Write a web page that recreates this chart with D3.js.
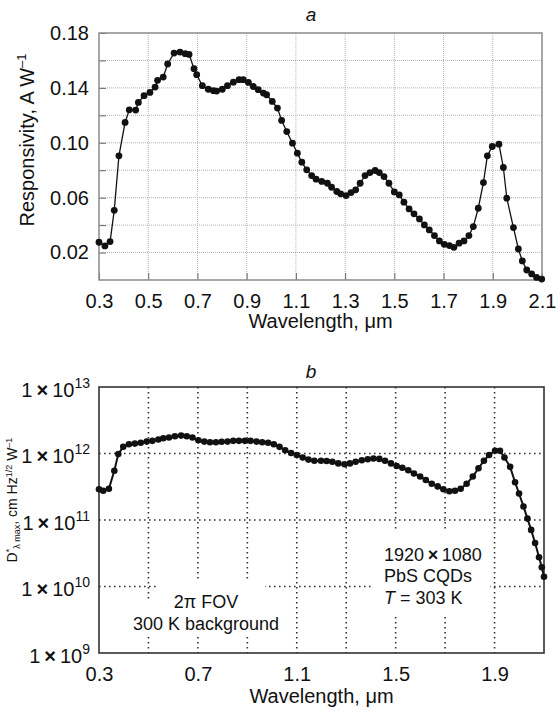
<!DOCTYPE html>
<html><head><meta charset="utf-8">
<script src="https://cdn.jsdelivr.net/npm/d3@7"></script>
<style>
body{margin:0;background:#fff}
svg{display:block}
text{font-family:"Liberation Sans",Arial,sans-serif;fill:#111}
</style>
</head><body>
<svg id="c" width="560" height="713"></svg>
<script>
// ---------- Panel a: responsivity ----------
const wavelengthA = [0.300,0.324,0.345,0.362,0.381,0.406,0.423,0.449,0.460,0.483,0.507,0.528,0.538,0.561,0.579,0.605,0.629,0.650,0.666,0.686,0.697,0.720,0.744,0.765,0.778,0.801,0.822,0.846,0.869,0.886,0.907,0.927,0.947,0.968,0.981,1.004,1.025,1.042,1.063,1.086,1.106,1.124,1.144,1.164,1.182,1.205,1.228,1.245,1.266,1.282,1.304,1.324,1.343,1.361,1.381,1.401,1.422,1.439,1.458,1.478,1.500,1.520,1.539,1.560,1.580,1.602,1.622,1.642,1.663,1.683,1.703,1.724,1.742,1.763,1.783,1.803,1.821,1.841,1.862,1.878,1.898,1.925,1.943,1.957,1.984,2.004,2.020,2.038,2.058,2.078,2.099];
const responsivity = [0.0275,0.0248,0.0280,0.0508,0.0905,0.1148,0.1240,0.1238,0.1294,0.1343,0.1367,0.1406,0.1455,0.1479,0.1574,0.1654,0.1661,0.1649,0.1644,0.1540,0.1496,0.1416,0.1390,0.1380,0.1377,0.1390,0.1416,0.1442,0.1460,0.1460,0.1440,0.1410,0.1387,0.1362,0.1350,0.1301,0.1253,0.1163,0.1082,0.0997,0.0924,0.0859,0.0803,0.0761,0.0735,0.0718,0.0705,0.0676,0.0645,0.0628,0.0615,0.0637,0.0657,0.0705,0.0761,0.0783,0.0798,0.0783,0.0754,0.0705,0.0642,0.0620,0.0567,0.0518,0.0482,0.0445,0.0401,0.0365,0.0324,0.0285,0.0260,0.0251,0.0238,0.0268,0.0285,0.0324,0.0389,0.0523,0.0710,0.0905,0.0973,0.0990,0.0820,0.0596,0.0382,0.0226,0.0139,0.0073,0.0044,0.0019,0.0007];
const xTicksA = [0.3,0.5,0.7,0.9,1.1,1.3,1.5,1.7,1.9,2.1];
const yTicksA = [0.02,0.04,0.06,0.08,0.10,0.12,0.14,0.16,0.18];
const yLabelsA = [0.02,0.06,0.10,0.14,0.18];

// ---------- Panel b: detectivity ----------
const wavelengthB = [0.300,0.317,0.340,0.362,0.378,0.398,0.421,0.445,0.469,0.493,0.516,0.540,0.560,0.583,0.607,0.632,0.655,0.678,0.702,0.726,0.749,0.773,0.796,0.820,0.843,0.866,0.890,0.913,0.937,0.960,0.984,1.007,1.030,1.053,1.077,1.100,1.124,1.147,1.171,1.198,1.221,1.244,1.268,1.293,1.315,1.338,1.363,1.387,1.410,1.434,1.457,1.481,1.504,1.527,1.551,1.574,1.599,1.622,1.646,1.670,1.693,1.717,1.740,1.763,1.787,1.812,1.835,1.857,1.878,1.902,1.922,1.940,1.963,1.983,1.999,2.017,2.033,2.048,2.064,2.080,2.091,2.100];
const detectivity = [2.9e11,2.75e11,2.95e11,5.5e11,9.8e11,1.26e12,1.38e12,1.41e12,1.45e12,1.51e12,1.55e12,1.62e12,1.70e12,1.74e12,1.82e12,1.86e12,1.82e12,1.74e12,1.58e12,1.51e12,1.48e12,1.48e12,1.50e12,1.51e12,1.55e12,1.55e12,1.55e12,1.55e12,1.51e12,1.48e12,1.45e12,1.38e12,1.26e12,1.12e12,1.02e12,9.5e11,8.7e11,8.1e11,7.8e11,7.8e11,7.7e11,7.5e11,7.1e11,6.9e11,7.1e11,7.5e11,7.9e11,8.2e11,8.4e11,8.3e11,7.8e11,7.1e11,6.5e11,6.1e11,5.6e11,5.0e11,4.5e11,4.0e11,3.5e11,3.2e11,2.9e11,2.7e11,2.75e11,2.95e11,3.5e11,4.5e11,6.0e11,7.8e11,9.5e11,1.10e12,1.10e12,8.7e11,6.3e11,3.7e11,2.5e11,1.6e11,1.05e11,7.1e10,4.5e10,2.75e10,1.95e10,1.4e10];
const xTicksB = [0.3,0.5,0.7,0.9,1.1,1.3,1.5,1.7,1.9];
const xLabelsB = [0.3,0.7,1.1,1.5,1.9];
const yTicksB = [1e9,1e10,1e11,1e12,1e13];

const svg = d3.select("#c");
const FS = 20;
const TS = "\u2009";

// ===== Panel a =====
(function(){
  const L=99,R=542,T=33,B=280;
  const x = d3.scaleLinear().domain([0.3,2.1]).range([L,R]);
  const y = d3.scaleLinear().domain([0,0.18]).range([B,T]);
  const g = svg.append("g");
  g.append("g").selectAll("line").data(xTicksA.slice(1,-1)).join("line")
    .attr("x1",d=>x(d)).attr("x2",d=>x(d)).attr("y1",T).attr("y2",B)
    .attr("stroke","#b4b4b4").attr("stroke-width",1).attr("stroke-dasharray","1,1");
  g.append("g").selectAll("line").data(yTicksA.slice(0,-1)).join("line")
    .attr("x1",L).attr("x2",R).attr("y1",d=>y(d)).attr("y2",d=>y(d))
    .attr("stroke","#b4b4b4").attr("stroke-width",1).attr("stroke-dasharray","1,1");
  const ax = d3.axisBottom(x).tickValues(xTicksA).tickSize(-7).tickPadding(17).tickFormat(d3.format(".1f"));
  const gx = g.append("g").attr("transform",`translate(0,${B})`).call(ax);
  const ay = d3.axisLeft(y).tickValues(yTicksA).tickSize(-7).tickPadding(10)
    .tickFormat(d=> yLabelsA.some(v=>Math.abs(v-d)<1e-9) ? d3.format(".2f")(d) : "");
  const gy = g.append("g").attr("transform",`translate(${L},0)`).call(ay);
  [gx,gy].forEach(a=>{
    a.select(".domain").remove();
    a.selectAll(".tick line").attr("stroke","#666");
    a.selectAll("text").attr("font-size",FS).attr("font-family","Liberation Sans, Arial, sans-serif").attr("fill","#111");
  });
  gx.selectAll("text").attr("dy","0.55em");
  g.append("rect").attr("x",L).attr("y",T).attr("width",R-L).attr("height",B-T)
    .attr("fill","none").attr("stroke","#8a8a8a").attr("stroke-width",1.5);
  const pts = wavelengthA.map((w,i)=>[w,responsivity[i]]);
  g.append("path").datum(pts).attr("fill","none").attr("stroke","#111").attr("stroke-width",1.3)
    .attr("d",d3.line().x(d=>x(d[0])).y(d=>y(d[1])));
  g.append("g").selectAll("circle").data(pts).join("circle")
    .attr("cx",d=>x(d[0])).attr("cy",d=>y(d[1])).attr("r",3.4).attr("fill","#111");
  g.append("text").attr("x",311).attr("y",21).attr("text-anchor","middle")
    .attr("font-size",19).attr("font-style","italic").text("a");
  g.append("text").attr("x",(L+R)/2).attr("y",328).attr("text-anchor","middle")
    .attr("font-size",FS).text("Wavelength, μm");
  const yl = g.append("text").attr("transform","translate(34,140) rotate(-90)")
    .attr("text-anchor","middle").attr("font-size",FS);
  yl.append("tspan").text("Responsivity, A W");
  yl.append("tspan").attr("font-size",13).attr("dy",-8).text("–1");
})();

// ===== Panel b =====
(function(){
  const L=99,R=544,T=387,B=653;
  const x = d3.scaleLinear().domain([0.3,2.1]).range([L,R]);
  const y = d3.scaleLog().domain([1e9,1e13]).range([B,T]);
  const g = svg.append("g");
  const gridStyle = sel => sel.attr("stroke","#333").attr("stroke-width",1.6).attr("stroke-dasharray","1.6,3.4");
  g.append("g").selectAll("line").data(xTicksB.slice(1)).join("line")
    .attr("x1",d=>x(d)).attr("x2",d=>x(d)).attr("y1",T).attr("y2",B).call(gridStyle);
  g.append("g").selectAll("line").data(yTicksB.slice(1,-1)).join("line")
    .attr("x1",L).attr("x2",R).attr("y1",d=>y(d)).attr("y2",d=>y(d)).call(gridStyle);
  g.append("rect").attr("x",157).attr("y",580).attr("width",108).attr("height",25).attr("fill","#fff");
  g.append("rect").attr("x",127).attr("y",599).attr("width",160).attr("height",38).attr("fill","#fff");
  g.append("rect").attr("x",372).attr("y",532).attr("width",118).attr("height",85).attr("fill","#fff");

  const ax = d3.axisBottom(x).tickValues(xLabelsB).tickSize(0).tickPadding(14).tickFormat(d3.format(".1f"));
  const gx = g.append("g").attr("transform",`translate(0,${B})`).call(ax);
  const ay = d3.axisLeft(y).tickValues(yTicksB).tickSize(0).tickPadding(9).tickFormat(()=> "");
  const gy = g.append("g").attr("transform",`translate(${L},0)`).call(ay);
  [gx,gy].forEach(a=>a.select(".domain").remove());
  gx.selectAll("text").attr("font-size",FS).attr("font-family","Liberation Sans, Arial, sans-serif").attr("fill","#111").attr("dy","0.71em");
  gy.selectAll(".tick text").each(function(d){
    const t = d3.select(this).attr("font-size",FS).attr("font-family","Liberation Sans, Arial, sans-serif").attr("fill","#111");
    t.append("tspan").text("1" + TS);
    t.append("tspan").attr("font-weight","bold").text("×");
    t.append("tspan").text(TS + "10");
    t.append("tspan").attr("font-size",14).attr("dy",-9).text(Math.round(Math.log10(d)));
  });
  gy.selectAll(".tick text").attr("dy","0.45em");
  g.append("rect").attr("x",L).attr("y",T).attr("width",R-L).attr("height",B-T)
    .attr("fill","none").attr("stroke","#333").attr("stroke-width",1.6);

  const pts = wavelengthB.map((w,i)=>[w,detectivity[i]]);
  g.append("path").datum(pts).attr("fill","none").attr("stroke","#111").attr("stroke-width",2)
    .attr("d",d3.line().x(d=>x(d[0])).y(d=>y(d[1])));
  g.append("g").selectAll("circle").data(pts).join("circle")
    .attr("cx",d=>x(d[0])).attr("cy",d=>y(d[1])).attr("r",3.3).attr("fill","#111");

  g.append("text").attr("x",311).attr("y",378).attr("text-anchor","middle")
    .attr("font-size",19).attr("font-style","italic").text("b");
  g.append("text").attr("x",(L+R)/2).attr("y",703).attr("text-anchor","middle")
    .attr("font-size",FS).text("Wavelength, μm");

  g.append("text").attr("x",206).attr("y",608).attr("text-anchor","middle").attr("font-size",18).text("2π FOV");
  g.append("text").attr("x",206).attr("y",630).attr("text-anchor","middle").attr("font-size",18).text("300 K background");
  const t1 = g.append("text").attr("x",384).attr("y",561).attr("font-size",18);
  t1.append("tspan").text("1920" + TS);
  t1.append("tspan").attr("font-weight","bold").text("×");
  t1.append("tspan").text(TS + "1080");
  g.append("text").attr("x",384).attr("y",582).attr("font-size",18).text("PbS CQDs");
  const t3 = g.append("text").attr("x",384).attr("y",604).attr("font-size",18);
  t3.append("tspan").attr("font-style","italic").text("T");
  t3.append("tspan").text(" = 303 K");

  // y-axis title (kept at the left edge, fully visible)
  const yl = g.append("text").attr("transform","translate(17,500) rotate(-90)")
    .attr("text-anchor","middle").attr("font-size",14);
  yl.append("tspan").text("D");
  yl.append("tspan").attr("font-size",9).attr("dy",-5).text("*");
  yl.append("tspan").attr("font-size",9).attr("dy",8).text("λ max");
  yl.append("tspan").attr("dy",-3).text(", cm Hz");
  yl.append("tspan").attr("font-size",9).attr("dy",-5).text("1/2");
  yl.append("tspan").attr("dy",5).text(" W");
  yl.append("tspan").attr("font-size",9).attr("dy",-5).text("–1");
})();
</script>
</body></html>
